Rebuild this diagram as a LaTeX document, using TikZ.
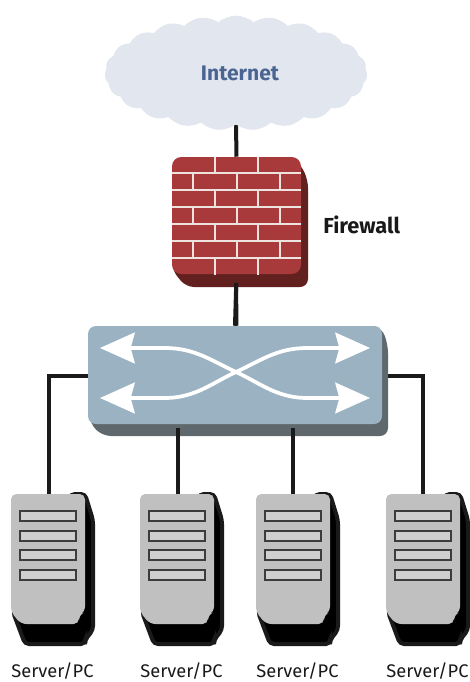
\documentclass[tikz,border=0pt]{standalone}
\usepackage{fontspec}
\setmainfont{Fira Sans}
\usetikzlibrary{positioning, arrows.meta, shapes.symbols, backgrounds}
\definecolor{cloudgrey}{HTML}{E2E6EE}
\definecolor{inetblue}{HTML}{4A6592}
\definecolor{brickred}{HTML}{A83A3C}
\definecolor{brickdark}{HTML}{62201F}
\definecolor{mortar}{HTML}{EFE3E0}
\definecolor{swblue}{HTML}{9AB2C2}
\definecolor{swdark}{HTML}{5F686C}
\definecolor{srvgrey}{HTML}{C0C0C0}
\definecolor{srvslot}{HTML}{CFCFCF}
\definecolor{wire}{HTML}{1A1A1A}
\tikzset{
	x=0.75pt,
	y=-0.75pt,
	cloudnode/.style={cloud, cloud puffs=23, cloud puff arc=80, aspect=2.4, fill=cloudgrey, inner sep=0pt, minimum width=197pt, minimum height=86pt, text=inetblue, font=\bfseries\fontsize{15.8}{17}\selectfont},
	wallnode/.style={fill=brickred, rounded corners=7pt, inner sep=0pt, minimum width=96.75pt, minimum height=87.75pt},
	switchnode/.style={fill=swblue, rounded corners=6pt, inner sep=0pt, minimum width=220.5pt, minimum height=73.5pt},
	servernode/.style={inner sep=0pt, minimum width=55.5pt, minimum height=96.75pt},
	label/.style={inner sep=0pt, font=\fontsize{13.7}{15}\selectfont, text=black!90},
	wire/.style={draw=wire, line width=3pt},
	mortarline/.style={draw=mortar, line width=1.1pt},
	swarrow/.style={draw=white, line width=2.8pt, {Stealth[length=26pt,width=23pt,inset=3pt]}-{Stealth[length=26pt,width=23pt,inset=3pt]}}}
\begin{document}
\begin{tikzpicture}
	\useasboundingbox (0,0) rectangle (469,682);

	%cloud
	\node[cloudnode] (internet) at (236,73) {\hspace{6pt}Internet};

	%firewall
	\fill[brickdark, rounded corners=6pt] (176,165) -- (292,157) -- (301,165) -- (308,180) -- (308,287) -- (186,287) -- (172,270) -- cycle;
	\node[wallnode] (firewall) at (236.5,215.5) {};
	\foreach \rowy in {173,190,207,224,241,258}
		\draw[mortarline] (172,\rowy) -- (301,\rowy);
	\foreach \rowy/\wallx in {157/215,157/258,190/215,190/258,224/215,224/258,258/215,258/258,
		173/193,173/237,173/280,207/193,207/237,207/280,241/193,241/237,241/280}
		\draw[mortarline] (\wallx,\rowy) -- (\wallx,\rowy+16.5);
	\node[font=\bfseries\fontsize{16.3}{18}\selectfont, text=black!90, right=0pt of firewall.east, xshift=13pt, yshift=-7pt] (fwlabel) {Firewall};

	%switch
	\fill[swdark, rounded corners=6pt] (90,340) -- (372,326) -- (382,328) -- (388,345) -- (388,436) -- (103,436) -- (90,424) -- cycle;
	\node[switchnode] (switch) at (235,375) {};
	\draw[swarrow] (100,348) -- (165,348) .. controls (195,348) and (212,361) .. (236,372) .. controls (260,383) and (277,398) .. (307,398) -- (370,398);
	\draw[swarrow] (100,398) -- (165,398) .. controls (195,398) and (212,383) .. (236,372) .. controls (260,361) and (277,348) .. (307,348) -- (370,348);

	%servers
	\foreach \i/\srvx in {1/11,2/140,3/256,4/386}{
		\begin{scope}[xshift=\srvx*0.75pt]
			\fill[wire, rounded corners=3pt] (60,494) -- (74,494) -- (82,520) -- (82,630) -- (74,640) -- (74,644) -- (14,644) -- (2,612) -- cycle;
			\fill[srvgrey, rounded corners=4pt] (0,612) -- (0,494) -- (74,494) -- (74,612) -- (68,615) -- (68,624) -- (10,624) -- cycle;
			\foreach \sloty in {511,531,550,570}
				\draw[draw=wire!85, line width=1.4pt, fill=srvslot] (9,\sloty) rectangle (65,\sloty+10);
		\end{scope}
		\node[servernode] (s\i) at (\srvx+37,558.5) {};
		\node[label] (lbl\i) at (\srvx+41.5,671.5) {Server/PC};
	}

	%links
	\coordinate (sw1) at (178,428);
	\coordinate (sw2) at (293,428);
	\coordinate (fwout) at (236,283);
	\begin{scope}[on background layer]
		\draw[wire] (internet.south) -- (firewall.north);
		\draw[wire] (firewall.south) -- (switch.north);
		\draw[wire] (switch.west |- 0,376) -| (49,495);
		\draw[wire] (switch.east |- 0,376) -| (423,495);
	\end{scope}
	\draw[wire] (fwout) -- (firewall.south |- switch.north);
	\draw[wire] (sw1) -- (s2.north -| sw1);
	\draw[wire] (sw2) -- (s3.north -| sw2);
\end{tikzpicture}
\end{document}
